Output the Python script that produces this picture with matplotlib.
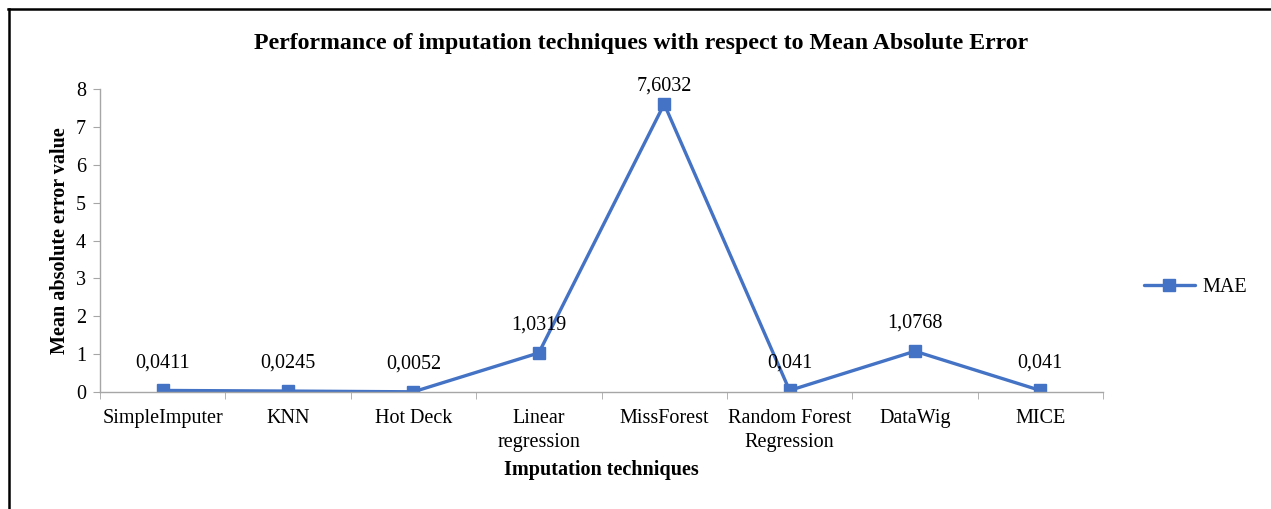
import matplotlib
matplotlib.use('Agg')
import matplotlib.pyplot as plt
from matplotlib.lines import Line2D

# chart values
techniques = ['SimpleImputer', 'KNN', 'Hot Deck', 'Linear\nregression', 'MissForest',
              'Random Forest\nRegression', 'DataWig', 'MICE']
mae = [0.0411, 0.0245, 0.0052, 1.0319, 7.6032, 0.041, 1.0768, 0.041]
yticks = [0, 1, 2, 3, 4, 5, 6, 7, 8]

plt.rcParams['font.family'] = ['Liberation Serif', 'DejaVu Serif']
blue = '#4472C4'
grey = '#A6A6A6'
fs = 14.5

fig = plt.figure(figsize=(12.71, 5.09), dpi=100)
ax = fig.add_axes([100/1271, 1 - 392/509, 1003/1271, 303/509])

x = list(range(len(techniques)))
ax.plot(x, mae, color=blue, lw=2.4, marker='s', ms=8.5, label='MAE', solid_capstyle='round')

# data labels, decimal comma like the original; the top one is squeezed under the plot edge
for xi, v in zip(x, mae):
    off = 13 if v > 7 else 20
    ax.annotate(f'{v:g}'.replace('.', ','), (xi, v), xytext=(0, off), textcoords='offset points',
                ha='center', va='center', fontsize=fs)

ax.set_xlim(-0.5, len(techniques) - 0.5)
ax.set_ylim(0, 8)
ax.set_yticks(yticks)
ax.set_xticks(x)
ax.set_xticklabels(techniques, fontsize=fs, linespacing=1.35)
ax.set_xticks([i - 0.5 for i in range(len(techniques) + 1)], minor=True)
ax.tick_params(axis='x', which='major', length=0, pad=12)
ax.tick_params(axis='x', which='minor', length=5, color=grey, direction='out')
ax.tick_params(axis='y', labelsize=fs, length=5, color=grey, direction='out', pad=5)

for side in ['top', 'right']:
    ax.spines[side].set_visible(False)
for side in ['left', 'bottom']:
    ax.spines[side].set_color(grey)
    ax.spines[side].set_linewidth(1.0)

ax.set_xlabel('Imputation techniques', fontsize=fs, fontweight='bold', labelpad=6)
ax.set_ylabel('Mean absolute error value', fontsize=fs, fontweight='bold', labelpad=4)
fig.text(641/1271, 1 - 43/509, 'Performance of imputation techniques with respect to Mean Absolute Error',
         ha='center', va='center', fontsize=17.2, fontweight='bold')

leg = ax.legend(loc='center left', bbox_to_anchor=(1.023, 0.345), frameon=False, fontsize=fs,
                handlelength=2.5, handletextpad=0.4)

# outer frame (left and top edge visible in the reference)
fig.add_artist(Line2D([9/1271, 9/1271], [0, 1 - 9/509], color='black', lw=1.8, transform=fig.transFigure))
fig.add_artist(Line2D([8/1271, 1], [1 - 9/509, 1 - 9/509], color='black', lw=1.8, transform=fig.transFigure))

fig.savefig('out.png', dpi=100)
